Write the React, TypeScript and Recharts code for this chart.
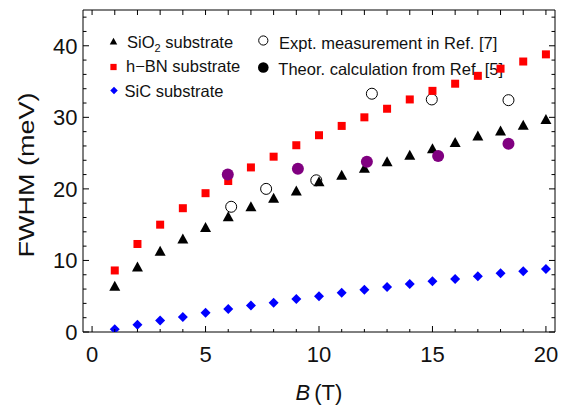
import React from 'react';
import { ScatterChart, Scatter, XAxis, YAxis, Label } from 'recharts';

// magnetic field (T) for the three substrate series
const B_FIELD = [1, 2, 3, 4, 5, 6, 7, 8, 9, 10, 11, 12, 13, 14, 15, 16, 17, 18, 19, 20];
const SIO2_FWHM = [6.4, 9.1, 11.3, 13.0, 14.6, 16.1, 17.5, 18.7, 19.7, 21.0, 21.9, 22.9, 23.8, 24.7, 25.6, 26.5, 27.4, 28.1, 28.9, 29.7];
const HBN_FWHM = [8.6, 12.3, 15.0, 17.3, 19.4, 21.1, 23.0, 24.5, 26.1, 27.5, 28.8, 30.0, 31.2, 32.5, 33.7, 34.7, 35.8, 36.8, 37.8, 38.8];
const SIC_FWHM = [0.4, 1.0, 1.6, 2.1, 2.7, 3.2, 3.7, 4.1, 4.6, 5.0, 5.5, 5.9, 6.3, 6.7, 7.1, 7.4, 7.8, 8.2, 8.5, 8.8];

// reference data
const EXPT_B = [6.13, 7.67, 9.88, 12.33, 14.97, 18.35];
const EXPT_FWHM = [17.5, 20.0, 21.2, 33.3, 32.5, 32.4];
const THEOR_B = [5.98, 9.07, 12.11, 15.25, 18.35];
const THEOR_FWHM = [22.0, 22.8, 23.8, 24.6, 26.3];

const X_TICKS = [0, 1, 2, 3, 4, 5, 6, 7, 8, 9, 10, 11, 12, 13, 14, 15, 16, 17, 18, 19, 20];
const Y_TICKS = [0, 2, 4, 6, 8, 10, 12, 14, 16, 18, 20, 22, 24, 26, 28, 30, 32, 34, 36, 38, 40, 42, 44];
const X_DOMAIN = [-0.4, 20.4];
const Y_DOMAIN = [0, 45];

const FONT = '"Liberation Sans", Arial, sans-serif';
const TXT = '#111';

const toPoints = (xs: number[], ys: number[]) => ys.map((v, i) => ({ b: xs[i], fwhm: v }));

const triangle = (p: any, s = 1) => (
  <polygon
    points={`${p.cx},${p.cy - 5.5 * s} ${p.cx + 5.5 * s},${p.cy + 4.5 * s} ${p.cx - 5.5 * s},${p.cy + 4.5 * s}`}
    fill="#000"
  />
);
const square = (p: any, s = 1) => (
  <rect x={p.cx - 4 * s} y={p.cy - 4 * s} width={8 * s} height={8 * s} fill="#ff0000" />
);
const diamond = (p: any, s = 1) => (
  <polygon
    points={`${p.cx},${p.cy - 5 * s} ${p.cx + 5 * s},${p.cy} ${p.cx},${p.cy + 5 * s} ${p.cx - 5 * s},${p.cy}`}
    fill="#0000ff"
  />
);
const openCircle = (p: any, r = 5.5) => (
  <circle cx={p.cx} cy={p.cy} r={r} fill="none" stroke="#000" strokeWidth={1} />
);
const dot = (p: any, r = 6, fill = '#800080') => <circle cx={p.cx} cy={p.cy} r={r} fill={fill} />;

const BottomTick = (p: any) => {
  const v = p.payload.value;
  const major = v % 5 === 0;
  return (
    <g>
      <line x1={p.x} x2={p.x} y1={p.y} y2={p.y - (major ? 6 : 3)} stroke="#000" strokeWidth={1} />
      {major && (
        <text x={p.x} y={p.y + 30} textAnchor="middle" fontSize={22} fontFamily={FONT} fill={TXT}>
          {v}
        </text>
      )}
    </g>
  );
};

const TopTick = (p: any) => (
  <line x1={p.x} x2={p.x} y1={p.y} y2={p.y + 5} stroke="#000" strokeWidth={1} />
);

const LeftTick = (p: any) => {
  const v = p.payload.value;
  const major = v % 10 === 0;
  return (
    <g>
      <line x1={p.x} x2={p.x + (major ? 6 : 3.5)} y1={p.y} y2={p.y} stroke="#000" strokeWidth={1} />
      {major && (
        <text x={p.x - 5.5} y={p.y + 8} textAnchor="end" fontSize={22} fontFamily={FONT} fill={TXT}>
          {v}
        </text>
      )}
    </g>
  );
};

const RightTick = (p: any) => {
  const major = p.payload.value % 10 === 0;
  return <line x1={p.x} x2={p.x - (major ? 6 : 3.5)} y1={p.y} y2={p.y} stroke="#000" strokeWidth={1} />;
};

const legendText = { fontSize: 16.5, fontFamily: FONT, fill: TXT };

// legend drawn inside the chart svg
const LegendBlock = () => (
  <g>
    {triangle({ cx: 113.5, cy: 41.5 }, 0.68)}
    <text x={127} y={47.5} {...legendText}>
      SiO<tspan fontSize={11} dy={4}>2</tspan>
      <tspan dy={-4}> substrate</tspan>
    </text>
    {square({ cx: 113.5, cy: 67 }, 0.78)}
    <text x={126} y={71.8} {...legendText}>h−BN substrate</text>
    {diamond({ cx: 114, cy: 90.5 }, 0.75)}
    <text x={124.5} y={97} {...legendText}>SiC substrate</text>

    {openCircle({ cx: 263.3, cy: 40.5 }, 4.6)}
    <text x={279} y={48.8} {...legendText}>Expt. measurement in Ref. [7]</text>
    {dot({ cx: 263.3, cy: 67.5 }, 5.3, '#000')}
    <text x={278.3} y={74.8} {...legendText}>Theor. calculation from Ref. [5]</text>
  </g>
);

const App: React.FC = () => {
  return (
    <div style={{ position: 'absolute', left: 0, top: 0 }}>
      <ScatterChart width={570} height={414} margin={{ top: 9, right: 14, bottom: 0, left: 0 }}>
        <XAxis type="number" dataKey="b" domain={X_DOMAIN} ticks={X_TICKS} interval={0} height={82}
          tickSize={0} tickMargin={0} tickLine={false} stroke="#000" tick={BottomTick} allowDataOverflow>
          <Label
            content={(props: any) => {
              const vb = props.viewBox;
              return (
                <text x={vb.x + vb.width / 2} y={vb.y + 68} textAnchor="middle" fontSize={22} fontFamily={FONT} fill={TXT}>
                  <tspan fontStyle="italic">B</tspan>
                  <tspan dx={4}>(T)</tspan>
                </text>
              );
            }}
          />
        </XAxis>
        <XAxis xAxisId="top" orientation="top" type="number" dataKey="b" domain={X_DOMAIN} ticks={X_TICKS} interval={0} height={1}
          tickSize={0} tickMargin={0} tickLine={false} stroke="#000" tick={TopTick} allowDataOverflow>
          <Label content={() => <LegendBlock />} />
        </XAxis>
        <YAxis type="number" dataKey="fwhm" domain={Y_DOMAIN} ticks={Y_TICKS} interval={0} width={83}
          tickSize={0} tickMargin={0} tickLine={false} stroke="#000" tick={LeftTick} allowDataOverflow>
          <Label
            content={(props: any) => {
              const vb = props.viewBox;
              const cx = vb.x + 34;
              const cy = vb.y + vb.height / 2 + 4;
              return (
                <text
                  x={cx}
                  y={cy}
                  transform={`rotate(-90, ${cx}, ${cy})`}
                  textAnchor="middle"
                  fontSize={22}
                  fontFamily={FONT}
                  fill={TXT}
                  textLength={165}
                  lengthAdjust="spacingAndGlyphs"
                >
                  FWHM (meV)
                </text>
              );
            }}
          />
        </YAxis>
        <YAxis yAxisId="right" orientation="right" type="number" dataKey="fwhm" domain={Y_DOMAIN} ticks={Y_TICKS} interval={0} width={1}
          tickSize={0} tickMargin={0} tickLine={false} stroke="#000" tick={RightTick} allowDataOverflow />
        <Scatter
          name="Expt. measurement in Ref. [7]"
          xAxisId="top"
          yAxisId="right"
          data={toPoints(EXPT_B, EXPT_FWHM)}
          shape={(p: any) => openCircle(p)}
          isAnimationActive={false}
        />
        <Scatter name="SiO2 substrate" data={toPoints(B_FIELD, SIO2_FWHM)} shape={(p: any) => triangle(p)} isAnimationActive={false} />
        <Scatter name="h-BN substrate" data={toPoints(B_FIELD, HBN_FWHM)} shape={(p: any) => square(p)} isAnimationActive={false} />
        <Scatter name="SiC substrate" data={toPoints(B_FIELD, SIC_FWHM)} shape={(p: any) => diamond(p)} isAnimationActive={false} />
        <Scatter name="Theor. calculation from Ref. [5]" data={toPoints(THEOR_B, THEOR_FWHM)} shape={(p: any) => dot(p)} isAnimationActive={false} />
      </ScatterChart>
    </div>
  );
};

export default App;
